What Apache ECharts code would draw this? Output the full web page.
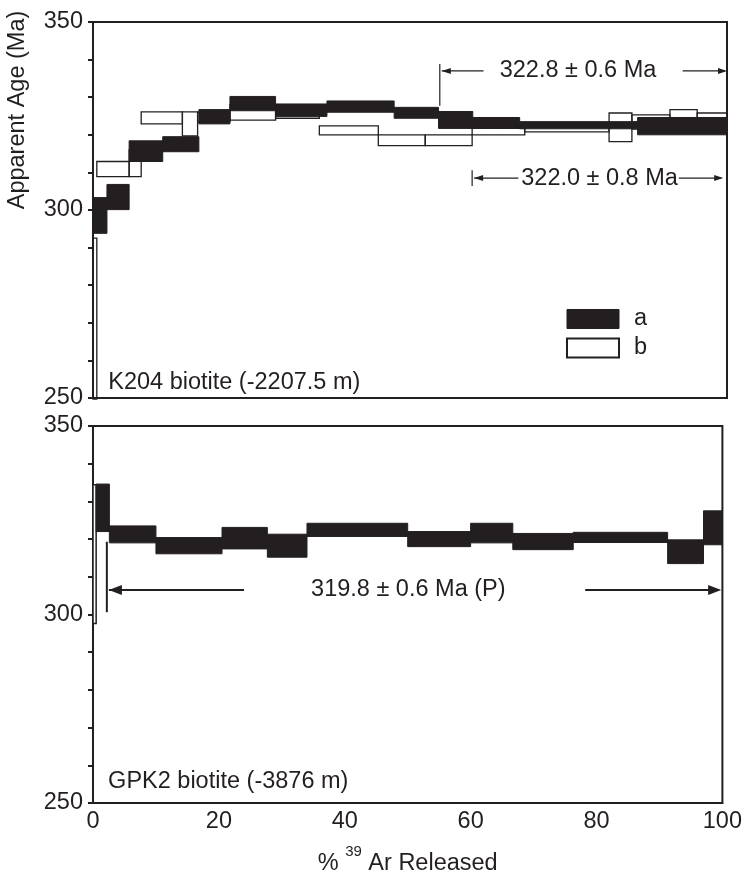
<!DOCTYPE html>
<html><head><meta charset="utf-8">
<script src="https://cdn.jsdelivr.net/npm/echarts@6/dist/echarts.min.js"></script>
<style>html,body{margin:0;padding:0;background:#fff}#c{width:745px;height:877px}</style>
</head><body><div id="c"></div>
<script>
// ---------- DATA ----------
// Top panel: K204 biotite, run a (filled) — step edges (% 39Ar) and age envelope (Ma)
const topA_edges = [0, 2.2, 5.7, 11.0, 16.7, 21.6, 28.8, 36.9, 47.5, 54.5, 59.9, 67.3, 85.9, 100];
const topA_low   = [293.8, 300.1, 312.9, 315.5, 322.9, 326.4, 324.9, 326.0, 324.4, 321.7, 321.7, 321.6, 320.0];
const topA_high  = [303.3, 306.8, 318.4, 319.5, 326.7, 330.2, 328.2, 329.0, 327.3, 326.2, 324.6, 323.5, 324.6];
// Top panel: run b (open)
const topB_edges = [0, 0.6, 5.7, 7.6, 14.1, 16.5, 21.6, 28.8, 35.7, 45.0, 52.4, 59.8, 68.1, 81.4, 85.0, 91.0, 95.3, 100];
const topB_low   = [245.0, 308.9, 308.9, 322.9, 319.7, 323.5, 323.9, 324.4, 320.0, 317.1, 317.1, 320.0, 320.8, 318.2, 321.5, 321.5, 321.5];
const topB_high  = [292.5, 312.9, 316.0, 326.1, 326.1, 326.0, 328.0, 327.0, 322.4, 320.0, 320.0, 321.8, 322.5, 325.8, 325.3, 326.7, 325.8];
// Bottom panel: GPK2 biotite (filled)
const botA_edges = [0.5, 2.6, 10.0, 20.5, 27.7, 34.0, 50.0, 60.0, 66.7, 76.3, 91.3, 97.0, 100];
const botA_low   = [322.0, 319.0, 316.1, 317.4, 315.2, 320.7, 318.0, 319.0, 317.2, 319.1, 313.5, 318.5];
const botA_high  = [334.6, 323.5, 320.4, 323.1, 321.3, 324.2, 322.0, 324.2, 321.5, 321.8, 319.8, 327.5];
// Bottom panel: first (open) step
const botB_edges = [0, 0.5];
const botB_low   = [297.6];
const botB_high  = [334.4];

// Plateau annotations
const plateauText        = ['322.8 ± 0.6 Ma', '322.0 ± 0.8 Ma', '319.8 ± 0.6 Ma (P)'];
const plateauPanel       = [0, 0, 1];
const plateauStart       = [54.7, 59.8, 2.2];
const plateauTickTop     = [338.8, 310.6, 319.3];
const plateauTickBottom  = [327.7, 306.4, 300.6];
const plateauArrowAge    = [337.0, 308.5, 306.5];
const plateauLeftEnd     = [61.6, 67.1, 24.0];
const plateauTextAt      = [76.5, 79.9, 50.1];
const plateauRightStart  = [93.0, 92.4, 78.2];
const plateauEnd         = [100, 99.4, 99.8];

// Panel labels
const panelLabelText = ['K204 biotite (-2207.5 m)', 'GPK2 biotite (-3876 m)'];
const panelLabelX    = [2.4, 2.4];
const panelLabelAge  = [254.0, 255.6];

// Axis ticks
const xTicks = [0, 20, 40, 60, 80, 100];
const yLabelled = [250, 300, 350];

// ---------- CHART ----------
const INK = '#231f20';
const FONT = '"Liberation Sans", Arial, Helvetica, sans-serif';
const FS = 23.5;

function steps(edges, low, high) {
  return low.map((l, i) => [edges[i], edges[i + 1], l, high[i]]);
}
function boxRender(fill, stroke, lw) {
  return function (params, api) {
    const p0 = api.coord([api.value(0), api.value(3)]);
    const p1 = api.coord([api.value(1), api.value(2)]);
    const cs = params.coordSys;
    const shape = echarts.graphic.clipRectByRect(
      { x: p0[0], y: p0[1], width: p1[0] - p0[0], height: p1[1] - p0[1] },
      { x: cs.x, y: cs.y, width: cs.width, height: cs.height + 1 });
    if (!shape) return;
    return { type: 'rect', shape: shape, style: { fill: fill, stroke: stroke, lineWidth: lw } };
  };
}
function arrowHead(tip, y, dir, len, hw) {
  return { type: 'polygon', shape: { points: [[tip, y], [tip - dir * len, y - hw], [tip - dir * len, y + hw]] }, style: { fill: INK } };
}
function plateauRender(params, api) {
  const i = api.value(2);
  const big = plateauPanel[i] === 1;
  const len = big ? 13 : 9, hw = big ? 5 : 3;
  const lw = big ? 2 : 1.2;
  const t0 = api.coord([plateauStart[i], plateauTickTop[i]]);
  const t1 = api.coord([plateauStart[i], plateauTickBottom[i]]);
  const a0 = api.coord([plateauStart[i], plateauArrowAge[i]]);
  const a1 = api.coord([plateauLeftEnd[i], plateauArrowAge[i]]);
  const tx = api.coord([plateauTextAt[i], plateauArrowAge[i]]);
  const r0 = api.coord([plateauRightStart[i], plateauArrowAge[i]]);
  const r1 = api.coord([plateauEnd[i], plateauArrowAge[i]]);
  const line = (x0, y0, x1, y1, w) => ({ type: 'line', shape: { x1: x0, y1: y0, x2: x1, y2: y1 }, style: { stroke: INK, lineWidth: w } });
  return {
    type: 'group',
    children: [
      line(t0[0], t0[1], t1[0], t1[1], lw),
      line(a0[0] + 2, a0[1], a1[0], a1[1], lw),
      arrowHead(a0[0] + 2, a0[1], -1, len, hw),
      line(r0[0], r0[1], r1[0] - 2, r1[1], lw),
      arrowHead(r1[0], r1[1], 1, len, hw),
      { type: 'text', x: tx[0], y: tx[1], style: { text: plateauText[i], fill: INK, font: FS + 'px ' + FONT, align: 'center', verticalAlign: 'middle' } }
    ]
  };
}
function labelRender(idx) {
  return function (params, api) {
    const p = api.coord([api.value(0), api.value(1)]);
    return { type: 'text', x: p[0], y: p[1], style: { text: panelLabelText[idx], fill: INK, font: FS + 'px ' + FONT, align: 'left', verticalAlign: 'middle' } };
  };
}

const chart = echarts.init(document.getElementById('c'), null, { renderer: 'canvas' });

const yAxisBase = (g) => ({
  gridIndex: g, type: 'value', min: 250, max: 350, interval: 10,
  axisLine: { show: true, lineStyle: { color: INK, width: 2 } },
  axisTick: { show: true, length: 5, lineStyle: { color: INK, width: 2 } },
  axisLabel: { color: INK, fontSize: FS, fontFamily: FONT, margin: 10,
    formatter: v => (yLabelled.indexOf(v) >= 0 ? String(v) : '') },
  splitLine: { show: false }
});
const xAxisBase = (g, labels) => ({
  gridIndex: g, type: 'value', min: 0, max: 100, interval: 20,
  axisLine: { show: true, lineStyle: { color: INK, width: 2 } },
  axisTick: { show: false },
  axisLabel: { show: labels, color: INK, fontSize: FS, fontFamily: FONT, margin: 7,
    formatter: v => (xTicks.indexOf(v) >= 0 ? String(v) : '') },
  splitLine: { show: false }
});

const bottomX = xAxisBase(1, true);
bottomX.name = '{t|% }{s|39}{t| Ar Released}';
bottomX.nameLocation = 'middle';
bottomX.nameGap = 41;
bottomX.nameTextStyle = { color: INK, fontFamily: FONT, rich: {
  t: { fontSize: FS, fontFamily: FONT, color: INK, lineHeight: 40 },
  s: { fontSize: 15, fontFamily: FONT, color: INK, lineHeight: 15, verticalAlign: 'top' } } };

const plateauData = plateauText.map((t, i) => [plateauStart[i], plateauArrowAge[i], i]);

chart.setOption({
  animation: false,
  backgroundColor: '#fff',
  textStyle: { fontFamily: FONT },
  grid: [
    { left: 93, right: 18, top: 22, height: 376, show: true, borderColor: INK, borderWidth: 2, backgroundColor: 'transparent' },
    { left: 93, right: 20, top: 426, height: 377, show: true, borderColor: INK, borderWidth: 2, backgroundColor: 'transparent' }
  ],
  xAxis: [xAxisBase(0, false), bottomX],
  yAxis: [yAxisBase(0), yAxisBase(1)],
  legend: {
    data: [
      { name: 'a', icon: 'rect', itemStyle: { color: INK, borderColor: INK, borderWidth: 1 } },
      { name: 'b', icon: 'rect', itemStyle: { color: '#fff', borderColor: INK, borderWidth: 2 } }
    ],
    orient: 'vertical', left: 566, top: 307, itemWidth: 52, itemHeight: 19, itemGap: 5, padding: 0,
    selectedMode: false,
    textStyle: { color: INK, fontSize: FS, fontFamily: FONT, padding: [0, 0, 0, 10] }
  },
  graphic: [
    { type: 'text', x: 18, y: 110, rotation: Math.PI / 2,
      style: { text: 'Apparent Age (Ma)', fill: INK, font: FS + 'px ' + FONT, align: 'center', verticalAlign: 'middle' } }
  ],
  series: [
    { name: 'b', type: 'custom', xAxisIndex: 0, yAxisIndex: 0, z: 2,
      itemStyle: { color: '#fff', borderColor: INK, borderWidth: 2 },
      renderItem: boxRender('rgba(255,255,255,0)', INK, 1.3), encode: { x: [0, 1], y: [2, 3] },
      data: steps(topB_edges, topB_low, topB_high) },
    { name: 'a', type: 'custom', xAxisIndex: 0, yAxisIndex: 0, z: 3,
      itemStyle: { color: INK },
      renderItem: boxRender(INK, INK, 1), encode: { x: [0, 1], y: [2, 3] },
      data: steps(topA_edges, topA_low, topA_high) },
    { name: 'b', type: 'custom', xAxisIndex: 1, yAxisIndex: 1, z: 2,
      itemStyle: { color: '#fff', borderColor: INK, borderWidth: 2 },
      renderItem: boxRender('#fff', INK, 1.5), encode: { x: [0, 1], y: [2, 3] },
      data: steps(botB_edges, botB_low, botB_high) },
    { name: 'a', type: 'custom', xAxisIndex: 1, yAxisIndex: 1, z: 3,
      itemStyle: { color: INK },
      renderItem: boxRender(INK, INK, 1), encode: { x: [0, 1], y: [2, 3] },
      data: steps(botA_edges, botA_low, botA_high) },
    { type: 'custom', xAxisIndex: 0, yAxisIndex: 0, z: 4, silent: true,
      renderItem: plateauRender, encode: { x: 0, y: 1 },
      data: plateauData.filter((d, i) => plateauPanel[i] === 0) },
    { type: 'custom', xAxisIndex: 1, yAxisIndex: 1, z: 4, silent: true,
      renderItem: plateauRender, encode: { x: 0, y: 1 },
      data: plateauData.filter((d, i) => plateauPanel[i] === 1) },
    { type: 'custom', xAxisIndex: 0, yAxisIndex: 0, z: 4, silent: true,
      renderItem: labelRender(0), encode: { x: 0, y: 1 },
      data: [[panelLabelX[0], panelLabelAge[0]]] },
    { type: 'custom', xAxisIndex: 1, yAxisIndex: 1, z: 4, silent: true,
      renderItem: labelRender(1), encode: { x: 0, y: 1 },
      data: [[panelLabelX[1], panelLabelAge[1]]] }
  ]
});
</script>
</body></html>
